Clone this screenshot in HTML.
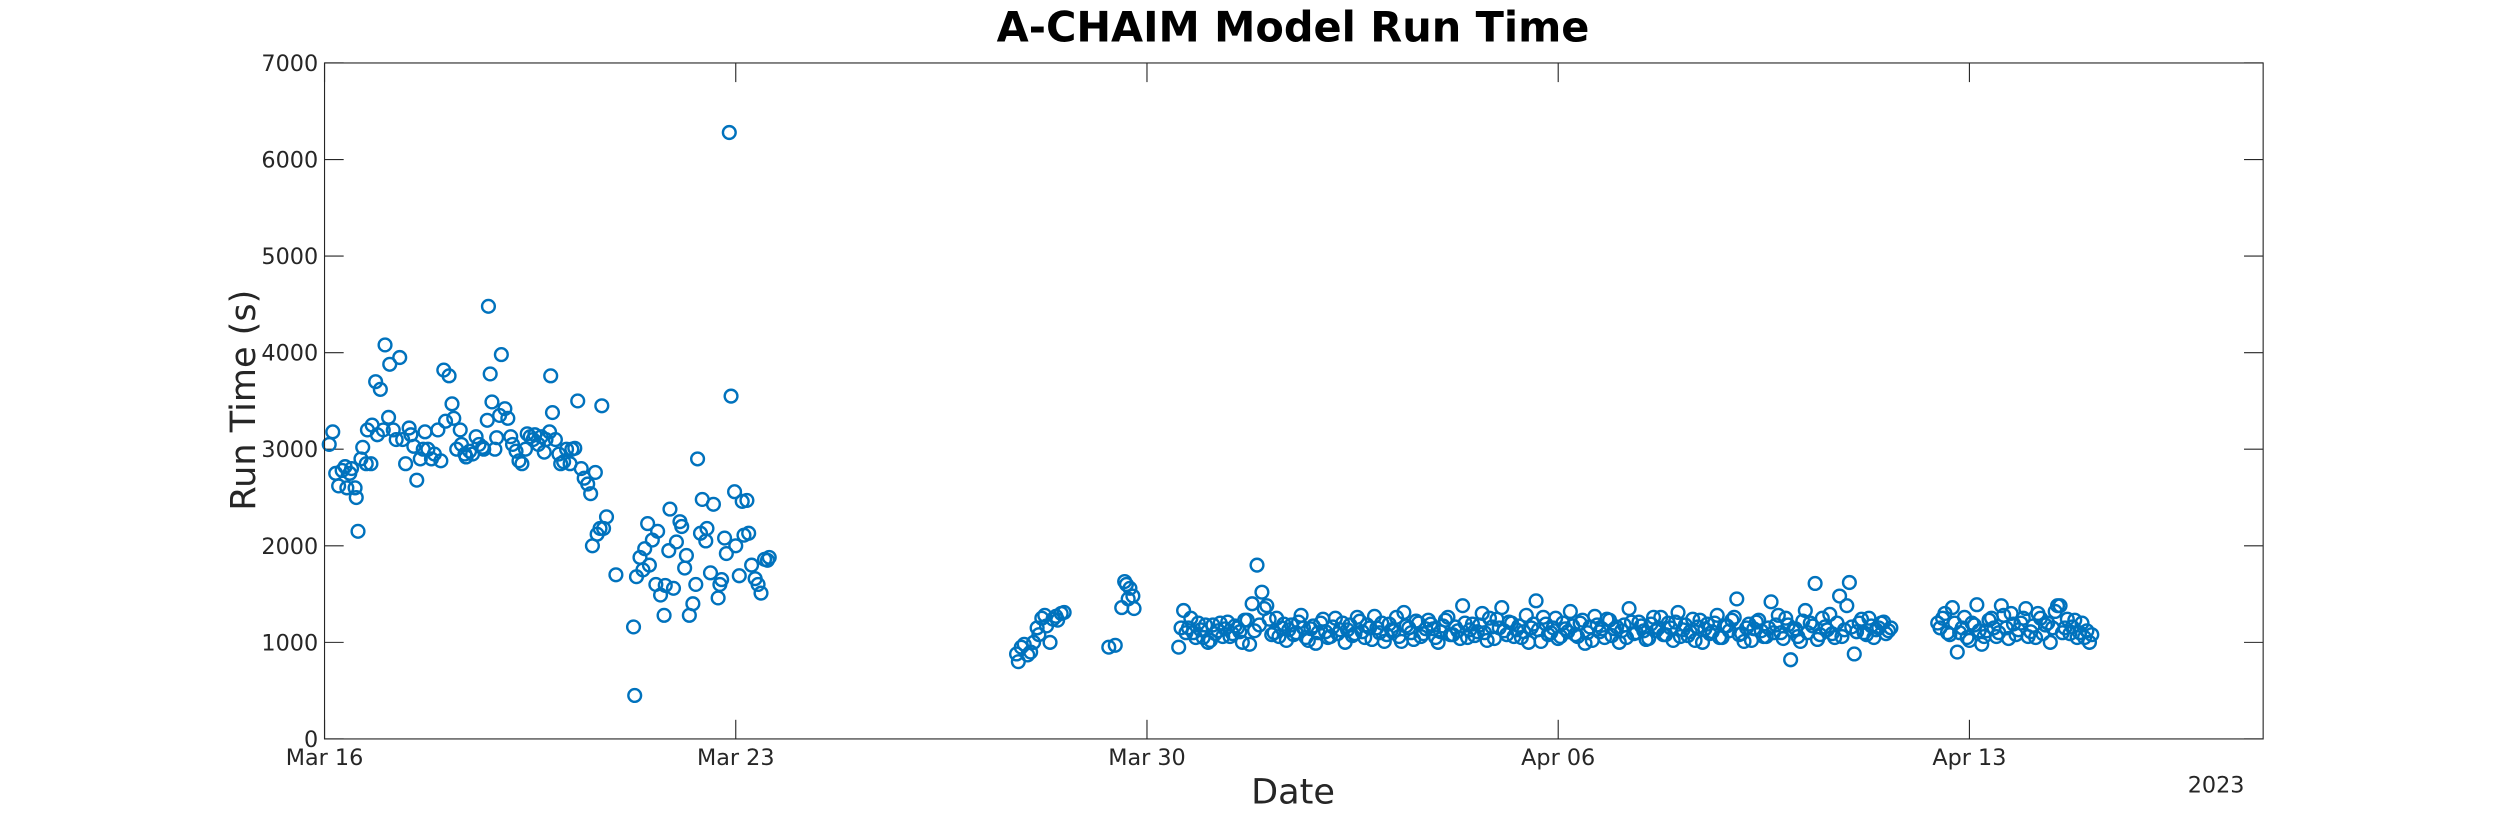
<!DOCTYPE html>
<html><head><meta charset="utf-8"><style>
body{margin:0;background:#fff}
svg{display:block;font-family:"Liberation Sans","DejaVu Sans",sans-serif}
</style></head><body>
<svg id="chart" width="2500" height="833" viewBox="0 0 1568 522.5" xmlns="http://www.w3.org/2000/svg">
<rect x="0" y="0" width="1568" height="522.5" fill="#fff"/>
<text x="811" y="26" text-anchor="middle" font-size="26" font-weight="bold" fill="#000" font-family="DejaVu Sans, sans-serif">A-CHAIM Model Run Time</text>
<text transform="translate(160,251) rotate(-90)" text-anchor="middle" font-size="22" fill="#262626" font-family="DejaVu Sans, sans-serif">Run Time (s)</text>
<text x="811" y="504" text-anchor="middle" font-size="22" fill="#262626" font-family="DejaVu Sans, sans-serif">Date</text>
<text x="1390" y="497" text-anchor="middle" font-size="14" fill="#262626" font-family="DejaVu Sans, sans-serif">2023</text>
<g id="axes"></g>
<g id="marks"></g>
<rect x="203.5" y="39.5" width="1216" height="424" fill="none" stroke="#262626" stroke-width="0.7"/>
</svg>
<script>
const xTickLabels = ["Mar 16","Mar 23","Mar 30","Apr 06","Apr 13"];
const xTickDays = [0,7,14,21,28];
const yTicks = [0,1000,2000,3000,4000,5000,6000,7000];
const earlyDays = [0.08,0.14,0.19,0.24,0.30,0.35,0.38,0.43,0.46,0.52,0.54,0.57,0.62,0.65,0.71,0.73,0.79,0.81,0.87,0.90,0.95,1.00,1.03,1.09,1.11,1.17,1.22,1.28,1.33,1.38,1.44,1.47,1.52,1.57,1.63,1.68,1.71,1.76,1.82,1.87,1.93,1.98,2.03,2.06,2.12,2.17,2.20,2.25,2.31,2.33,2.39,2.41,2.47,2.52,2.58,2.63,2.69,2.71,2.77,2.79,2.82,2.85,2.90,2.93,2.98,3.01,3.07,3.12,3.17,3.20,3.26,3.31,3.36,3.42,3.45,3.50,3.55,3.58,3.64,3.69,3.74,3.77,3.83,3.85,3.88,3.93,3.99,4.02,4.07,4.12,4.18,4.21,4.26,4.31,4.37,4.42,4.48,4.53,4.56,4.61,4.64,4.69,4.72,4.75,4.80,4.96,5.26,5.28,5.31,5.37,5.42,5.45,5.50,5.53,5.58,5.64,5.67,5.72,5.78,5.80,5.86,5.88,5.94,5.99,6.05,6.08,6.13,6.16,6.21,6.27,6.32,6.35,6.40,6.43,6.49,6.51,6.57,6.62,6.70,6.73,6.76,6.81,6.84,6.89,6.92,6.98,7.00,7.06,7.11,7.14,7.19,7.22,7.27,7.33,7.38,7.43,7.49,7.54,7.57];
const earlyValues = [3050,3180,2750,2620,2780,2820,2600,2750,2800,2600,2500,2150,2900,3020,2850,3200,2850,3250,3700,3150,3620,3200,4080,3330,3880,3200,3100,3950,3100,2850,3220,3150,3030,2680,2900,3000,3180,3000,2900,2950,3200,2880,3820,3290,3760,3470,3320,3000,3200,3050,2950,2920,2980,2950,3130,3050,3020,3000,3300,4480,3780,3490,3000,3120,3350,3980,3420,3320,3130,3050,2980,2880,2850,3000,3160,3130,3100,3150,3050,3130,2970,3100,3180,3760,3380,3100,2950,2850,2870,3000,2850,3000,3010,3500,2800,2700,2640,2540,2000,2760,2120,2180,3450,2180,2300,1700,1160,450,1680,1880,1750,1970,2230,1800,2060,1600,2150,1490,1280,1590,1950,2380,1560,2040,2250,2200,1770,1900,1280,1400,1600,2900,2130,2480,2050,2180,1720,2430,1460,1600,1650,2080,1920,6280,3550,2560,2000,1690,2460,2110,2470,2130,1800,1660,1600,1510,1860,1850,1880,1820,1900];
const clusterDays = [11.78,11.81,11.86,11.91,11.97,12.02,12.07,12.13,12.16,12.21,12.26,12.29,12.35,12.40,12.45,12.48,12.54,12.59,13.35,13.46,13.57,13.62,13.65,13.68,13.71,13.76,13.78];
const clusterValues = [880,800,950,980,870,900,1000,1150,1080,1250,1280,1170,1000,1240,1270,1230,1300,1310,950,970,1360,1630,1600,1450,1560,1480,1350];
const band1StartDay = 14.54;
const band1StepHours = 2;
const band1Values = [950,1330,1150,1100,1200,1050,1000,1180,1120,1060,1210,1090,1150,1000,1230,1400,1800,1520,1380,1080,1250,1150,1020,1180,1100,1280,1050,1140,990,1200,1110,1060,1250,1130,1000,1180,1090,1220,1050,1150,1270,1100,1010,1190,1120,1060,1310,1150,1030,1200,1090,1230,1140,1000,1170,1260,1080,1120,1380,1050,1190,1110,1300,1020,1160,1240,1360,1080,1200,1130,1050,1280,1150,1430,1010,1190,1100,1250,1060,1140,1320,1080,1200,990,1160,1270,1110,1050,1230,1140,1000,1180,1350,1090,1210,1120,1040,1260,1150,1080,1200,1020,1310,1130,1070,1240,1160,1000,1190,1110,1280,1050,1170,1230,1450,1090,1150,1020,1210,1120,1060,1420,1180,1100,1250,820,1140,1010,1330,1200,1610,1080,1160,1290,1050,1480,1130,1620,880,1200,1100,1250,1050,1150,1210,1120];
const band1bStartDay = 14.58;
const band1bStepHours = 2;
const band1bValues = [1150,1100,1250,1050,1130,1180,1020,1090,1200,1140,1060,1170,1110,1230,980,1120,1180,1350,1240,1100,1060,1190,1130,1080,1210,1150,1020,1170,1100,1240,1050,1160,1090,1200,1130,1070,1260,1110,1180,1030,1150,1200,1080,1130,1260,1010,1170,1100,1220,1060,1140,1190,1050,1110,1230,1080,1160,1040,1200,1130,1070,1180,1100,1250,1040,1150,1120,1210,1060,1170,1110,1000,1190,1130,1260,1080,1150,1040,1200,1110,1170,1060,1230,1100,1020,1180,1140,1240,1070,1160,1120,1050,1210,1100,1170,1030,1190,1120,1260,1080,1150,1210,1060,1180,1110,1020,1230,1140,1090,1200,1050,1170,1120,1260,1080,1010,1190,1140,1230,1060,1150,1100,1280,1040,1180,1120,1060,1220,1100,1170,1030,1250,1130,1090,1200,1060,1380,1160,1110,1240,1080,1170,1130,1200,1090,1150];
const band2StartDay = 27.46;
const band2StepHours = 2;
const band2Values = [1200,1250,1100,1360,900,1150,1050,1200,1390,980,1120,1250,1060,1380,1150,1300,1080,1200,1350,1110,1050,1250,1180,1000,1320,1380,1150,1090,1230,1100,1050,1000];
const band2bStartDay = 27.50;
const band2bStepHours = 2;
const band2bValues = [1150,1300,1080,1200,1100,1260,1020,1180,1120,1060,1230,1150,1100,1280,1040,1190,1130,1250,1060,1170,1300,1090,1200,1150,1380,1100,1240,1160,1050,1200,1120,1080];

const NS="http://www.w3.org/2000/svg";
const X0=203.5,X1=1419.5,Y0=463.5,Y1=39.5,DMAX=33,VMAX=7000;
function xScale(d){return X0+(d/DMAX)*(X1-X0);}
function yScale(v){return Y0-(v/VMAX)*(Y0-Y1);}
const axes=document.getElementById('axes');
const marks=document.getElementById('marks');
function mk(tag,attrs,parent){const e=document.createElementNS(NS,tag);for(const k in attrs)e.setAttribute(k,attrs[k]);parent.appendChild(e);return e;}
xTickDays.forEach((d,i)=>{
  const x=xScale(d);
  const t1=mk('line',{x1:x,x2:x,y1:Y0,y2:Y0-12,stroke:'#262626','stroke-width':0.7},axes);
  
  
  const t2=mk('line',{x1:x,x2:x,y1:Y1,y2:Y1+12,stroke:'#262626','stroke-width':0.7},axes);
  
  
  const tx=mk('text',{x:x,y:480,'text-anchor':'middle','font-size':14,fill:'#262626','font-family':'DejaVu Sans, sans-serif'},axes);
  tx.textContent=xTickLabels[i];
  
  
});
yTicks.forEach(v=>{
  const y=yScale(v);
  const t1=mk('line',{x1:X0,x2:X0+12,y1:y,y2:y,stroke:'#262626','stroke-width':0.7},axes);
  
  
  const t2=mk('line',{x1:X1,x2:X1-12,y1:y,y2:y,stroke:'#262626','stroke-width':0.7},axes);
  
  
  const tx=mk('text',{x:X0-4,y:y+5,'text-anchor':'end','font-size':14,fill:'#262626','font-family':'DejaVu Sans, sans-serif'},axes);
  tx.textContent=String(v);
  
  
});
function pt(d,v){
  const c=mk('circle',{cx:xScale(d),cy:yScale(v),r:4,fill:'none',stroke:'#0072BD','stroke-width':1.5},marks);
  
  
}
earlyDays.forEach((d,i)=>pt(d,earlyValues[i]));
clusterDays.forEach((d,i)=>pt(d,clusterValues[i]));
band1Values.forEach((v,i)=>pt(band1StartDay+i*band1StepHours/24,v));
band1bValues.forEach((v,i)=>pt(band1bStartDay+i*band1bStepHours/24,v));
band2Values.forEach((v,i)=>pt(band2StartDay+i*band2StepHours/24,v));
band2bValues.forEach((v,i)=>pt(band2bStartDay+i*band2bStepHours/24,v));
</script>
</body></html>
